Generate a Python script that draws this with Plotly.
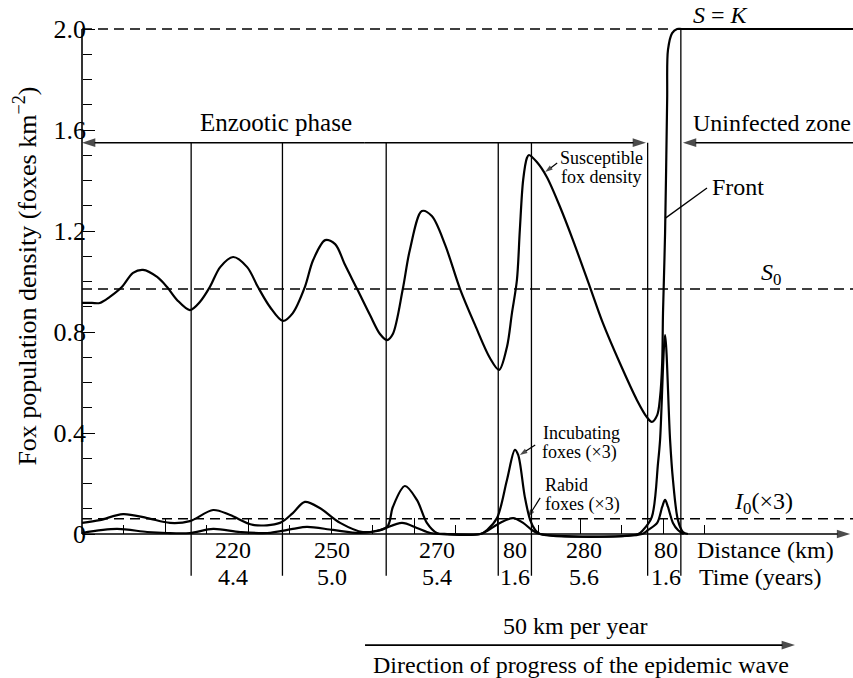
import plotly.graph_objects as go

# ---- data -------------------------------------------------------------
# Susceptible fox density S (foxes km^-2) against distance (km)
s_km = [0, 24, 43, 67, 96, 123, 147, 181, 205, 229, 260, 284, 308, 333, 364,
        398, 424, 453, 484, 508, 537, 557, 586, 610, 634, 663, 694, 718, 735,
        749, 773, 790, 819, 843, 875, 911, 947, 983, 1005, 1024, 1036, 1048,
        1055, 1063, 1072, 1077, 1096, 1120, 1152, 1183, 1224, 1255, 1296,
        1337, 1361, 1373, 1386, 1393, 1398, 1400, 1405, 1410, 1412, 1422,
        1434, 1445, 1470, 1550, 1700, 1858]
s_val = [0.915, 0.915, 0.915, 0.939, 0.978, 1.034, 1.046, 1.018, 0.978, 0.927,
         0.887, 0.919, 0.978, 1.057, 1.097, 1.057, 0.978, 0.899, 0.844, 0.875,
         0.978, 1.085, 1.164, 1.148, 1.065, 0.970, 0.867, 0.792, 0.768, 0.792,
         0.970, 1.125, 1.279, 1.259, 1.145, 0.970, 0.828, 0.697, 0.650, 0.741,
         0.875, 1.006, 1.204, 1.402, 1.489, 1.501, 1.473, 1.414, 1.295, 1.164,
         0.978, 0.836, 0.677, 0.531, 0.463, 0.444, 0.471, 0.543, 0.677, 0.875,
         1.192, 1.719, 1.917, 1.984, 2.0, 2.0, 2.0, 2.0, 2.0, 2.0]

# Incubating foxes (x3)
inc_km = [0, 43, 99, 157, 212, 260, 316, 357, 412, 477, 508, 537, 573, 622,
          677, 735, 749, 778, 807, 831, 855, 880, 960, 976, 1000, 1024, 1043,
          1051, 1067, 1080, 1092, 1104, 1340, 1352, 1373, 1388, 1393, 1405,
          1417, 1424, 1436, 1448, 1460]
inc_val = [0.044, 0.055, 0.079, 0.063, 0.044, 0.051, 0.095, 0.075, 0.036,
           0.044, 0.083, 0.127, 0.103, 0.044, 0.008, 0.028, 0.107, 0.190,
           0.135, 0.044, 0.004, 0.0, 0.0, 0.016, 0.063, 0.214, 0.333, 0.313,
           0.147, 0.055, 0.016, 0.0, 0.0, 0.016, 0.067, 0.281, 0.374, 0.788,
           0.374, 0.214, 0.055, 0.008, 0.0]

# Rabid foxes (x3)
rab_km = [0, 84, 157, 205, 260, 316, 381, 446, 508, 542, 605, 670, 718, 771,
          807, 839, 860, 960, 976, 1007, 1039, 1063, 1084, 1104, 1350, 1364,
          1386, 1398, 1405, 1412, 1424, 1436, 1450]
rab_val = [0.004, 0.020, 0.008, 0.004, 0.004, 0.020, 0.008, 0.004, 0.020,
           0.028, 0.016, 0.004, 0.016, 0.044, 0.024, 0.004, 0.0, 0.0, 0.012,
           0.044, 0.063, 0.044, 0.016, 0.0, 0.0, 0.016, 0.044, 0.107, 0.135,
           0.107, 0.044, 0.016, 0.0]

# Wave segments: distance (km) and duration (years)
seg_km = [220, 250, 270, 80, 280, 80]
seg_years = ["4.4", "5.0", "5.4", "1.6", "5.6", "1.6"]
seg_label_km = [363, 602, 855, 1043, 1210, 1407]
first_boundary_km = 263

S0 = 0.97          # endemic equilibrium
K = 2.0            # carrying capacity
I0 = 0.06          # equilibrium infectives (x3)
y_ticks = [0, 0.4, 0.8, 1.2, 1.6, 2.0]
y_tick_text = ["0", "0.4", "0.8", "1.2", "1.6", "2.0"]
y_minor = [0.1, 0.2, 0.3, 0.5, 0.6, 0.7, 0.9, 1.0, 1.1, 1.3, 1.4, 1.5,
           1.7, 1.8, 1.9]
x_major = [200, 400, 600, 800, 1000, 1200, 1400]
x_minor = [100, 300, 500, 700, 900, 1100, 1300, 1500]

# ---- geometry ---------------------------------------------------------
W, H = 853, 678
X0_PX, PX_PER_KM = 82, 0.415
Y0_PX, PX_PER_UNIT = 534, 252.5
x_range = [-X0_PX / PX_PER_KM, (W - X0_PX) / PX_PER_KM]
y_range = [-(H - Y0_PX) / PX_PER_UNIT, Y0_PX / PX_PER_UNIT]

FONT = "Liberation Serif, Times New Roman, serif"
INK = "black"

boundaries = [first_boundary_km]
for d in seg_km:
    boundaries.append(boundaries[-1] + d)

fig = go.Figure()

curve = dict(color=INK, width=2.2, shape="spline", smoothing=0.9)
fig.add_trace(go.Scatter(x=s_km, y=s_val, mode="lines", line=curve,
                         hoverinfo="skip", showlegend=False))
fig.add_trace(go.Scatter(x=inc_km, y=inc_val, mode="lines", line=curve,
                         hoverinfo="skip", showlegend=False))
fig.add_trace(go.Scatter(x=rab_km, y=rab_val, mode="lines", line=curve,
                         hoverinfo="skip", showlegend=False))


def arrow(x0, y0, x1, y1, head=14, width=1.5):
    """Line from (x0, y0) with a filled head at (x1, y1)."""
    fig.add_trace(go.Scatter(
        x=[x0, x1], y=[y0, y1], mode="lines+markers",
        line=dict(color=INK, width=width),
        marker=dict(symbol="arrow", size=[0, head], angleref="previous",
                    color=INK, line=dict(width=0)),
        hoverinfo="skip", showlegend=False))


# axis arrow along distance
arrow(0, 0, 1851, 0, width=1.6)
# enzootic phase (both ways) / uninfected zone
arrow(680, 1.55, 0, 1.55)
arrow(680, 1.55, 1359, 1.55)
arrow(x_range[1], 1.55, 1448, 1.55)
# direction of wave
arrow(682, -0.44, 1718, -0.44, width=1.6)
# pointers to the curves
arrow(1145, 1.469, 1116, 1.434, head=8, width=1.2)
arrow(1092, 0.352, 1055, 0.313, head=8, width=1.2)
arrow(1104, 0.143, 1075, 0.067, head=8, width=1.2)

shapes = []
dash = "10px,6px"
# reference levels
shapes.append(dict(type="line", x0=0, x1=1420, y0=K, y1=K,
                   line=dict(color=INK, width=1.5, dash=dash)))
shapes.append(dict(type="line", x0=0, x1=x_range[1], y0=S0, y1=S0,
                   line=dict(color=INK, width=1.5, dash=dash)))
shapes.append(dict(type="line", x0=0, x1=x_range[1], y0=I0, y1=I0,
                   line=dict(color=INK, width=1.5, dash=dash)))
# y axis line
shapes.append(dict(type="line", x0=0, x1=0, y0=0, y1=K,
                   line=dict(color=INK, width=1.6)))
# segment boundaries
for i, b in enumerate(boundaries):
    top = K if i == len(boundaries) - 1 else 1.55
    shapes.append(dict(type="line", x0=b, x1=b, y0=top, y1=-0.165,
                       line=dict(color=INK, width=1.3)))
# pointer to the front
shapes.append(dict(type="line", x0=1405, x1=1506, y0=1.25, y1=1.37,
                   line=dict(color=INK, width=1.3)))

ann = []


def text(x, y, s, size=24, xanchor="center", angle=0):
    ann.append(dict(x=x, y=y, text=s, showarrow=False, xanchor=xanchor,
                    yanchor="middle", textangle=angle,
                    font=dict(family=FONT, size=size, color=INK)))


text(467, 1.628, "Enzootic phase", size=25)
text(x_range[1], 1.628, "Uninfected zone", xanchor="right")
text(1540, 2.055, "<i>S</i> = <i>K</i>")
text(1581, 1.374, "Front")
text(1660, 1.03, "<i>S</i><sub>0</sub>")
text(1641, 0.123, "<i>I</i><sub>0</sub>(×3)")
text(1147, 1.489, "Susceptible", size=18, xanchor="left")
text(1149, 1.414, "fox density", size=18, xanchor="left")
text(1106, 0.400, "Incubating", size=18, xanchor="left")
text(1104, 0.321, "foxes (×3)", size=18, xanchor="left")
text(1111, 0.194, "Rabid", size=18, xanchor="left")
text(1111, 0.115, "foxes (×3)", size=18, xanchor="left")

for xk, d, t in zip(seg_label_km, seg_km, seg_years):
    text(xk, -0.063, str(d))
    text(xk, -0.172, t)
text(1477, -0.063, "Distance (km)", xanchor="left")
text(1482, -0.172, "Time (years)", xanchor="left")
text(1188, -0.364, "50 km per year")
text(1202, -0.519, "Direction of progress of the epidemic wave")
text(-137, 1.02, "Fox population density (foxes km<sup>−2</sup>)", size=26,
     angle=-90)

fig.update_layout(
    width=W, height=H, margin=dict(l=0, r=0, t=0, b=0, pad=0),
    paper_bgcolor="white", plot_bgcolor="white",
    shapes=shapes, annotations=ann, showlegend=False,
    xaxis=dict(range=x_range, anchor="free", position=(H - Y0_PX) / H,
               showgrid=False, zeroline=False, showline=False,
               showticklabels=False, ticks="inside", tickmode="array",
               tickvals=x_major, ticklen=16, tickwidth=1.3, tickcolor=INK,
               minor=dict(tickmode="array", tickvals=x_minor, ticks="inside",
                          ticklen=9, tickwidth=1.3, tickcolor=INK)),
    yaxis=dict(range=y_range, anchor="free", position=X0_PX / W,
               showgrid=False, zeroline=False, showline=False,
               tickmode="array", tickvals=y_ticks, ticktext=y_tick_text,
               ticks="inside", ticklen=12, tickwidth=1.4, tickcolor=INK,
               ticklabelstandoff=-4,
               tickfont=dict(family=FONT, size=26, color=INK),
               minor=dict(tickmode="array", tickvals=y_minor, ticks="inside",
                          ticklen=9, tickwidth=1.3, tickcolor=INK)),
)

fig.write_html("out.html")
